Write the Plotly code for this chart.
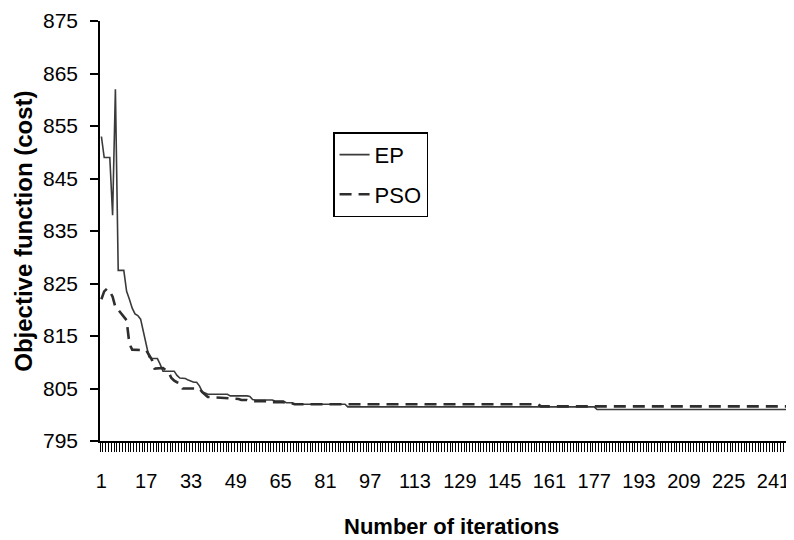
import plotly.graph_objects as go

# Data (iteration number, objective cost)
ep_iter = [1, 2, 4, 5, 6, 7, 9, 10, 11, 12, 13, 14, 15, 16, 17, 18, 19, 21, 22, 23,
           27, 28, 29, 31, 32, 33, 34, 35, 36, 37, 38, 39, 46, 47, 53, 54, 55, 56, 62,
           63, 66, 67, 69, 70, 88, 89, 177, 178, 252]
ep_cost = [853, 849, 849, 838, 862, 827.5, 827.5, 823.5, 822, 820.3, 819.2, 818.9, 818.2,
           815.8, 813, 811, 810.7, 810.7, 809.6, 808.3,
           808.3, 807.5, 807, 806.9, 806.6, 806.4, 806.2, 806.2, 805.5, 804.4, 804.1, 803.9,
           803.9, 803.6, 803.6, 803.5, 802.9, 802.8, 802.8,
           802.6, 802.6, 802.3, 802.3, 802.0, 802.0, 801.5, 801.5, 801.0, 801.0]

pso_iter = [1, 2, 3, 4, 5, 6, 7, 8, 9, 10, 11, 12, 17, 18, 19, 20, 21, 22, 23, 24, 25,
            26, 27, 28, 29, 30, 36, 37, 38, 39, 45, 50, 51, 53, 54, 60, 61, 66, 67, 69,
            70, 157, 158, 252]
pso_cost = [822, 823.5, 824, 823.5, 822.5, 820.5, 820, 819.3, 818.8, 818, 813.5, 812.4,
            812.3, 811.5, 810.5, 808.8, 808.8, 808.9, 808.9, 808.5, 808.1,
            807, 806.5, 806.2, 806.0, 805.0, 805.0, 804.3, 803.8, 803.4, 803.2, 803.0,
            802.8, 802.8, 802.6, 802.6, 802.4, 802.4, 802.2, 802.2,
            802.0, 802.0, 801.6, 801.6]

x_tick_vals = [1, 17, 33, 49, 65, 81, 97, 113, 129, 145, 161, 177, 193, 209, 225, 241]
y_tick_vals = [795, 805, 815, 825, 835, 845, 855, 865, 875]

FONT = "Liberation Sans, Arial, sans-serif"

fig = go.Figure()
fig.add_trace(go.Scatter(
    x=ep_iter, y=ep_cost, mode="lines", name="EP",
    line=dict(color="#3a3a3a", width=1.6),
    legendgroup="ep",
))
fig.add_trace(go.Scatter(
    x=pso_iter, y=pso_cost, mode="lines", name="PSO",
    line=dict(color="#2e2e2e", width=2.6, dash="12px,7px"),
    legendgroup="pso",
))

fig.update_layout(
    width=794, height=540,
    margin=dict(l=92, r=0, t=13, b=107),
    paper_bgcolor="white", plot_bgcolor="white",
    font=dict(family=FONT, color="black", size=21),
    showlegend=True,
    legend=dict(
        x=0.332, y=0.735, xanchor="left", yanchor="top",
        bordercolor="black", borderwidth=1.5, bgcolor="white",
        font=dict(size=22, family=FONT, color="black"),
        tracegroupgap=8, itemwidth=30,
    ),
    xaxis=dict(
        range=[0.5, 251.2], showgrid=False, zeroline=False,
        showline=True, linecolor="black", linewidth=1.5,
        tickmode="array", tickvals=x_tick_vals,
        ticktext=[str(v) for v in x_tick_vals],
        ticks="", ticklabelstandoff=21, ticklabeloverflow="allow",
        tickfont=dict(size=20, family=FONT, color="black"),
        minor=dict(tickmode="linear", tick0=0.5, dtick=1, ticks="outside",
                   ticklen=9, tickwidth=1, tickcolor="black"),
    ),
    yaxis=dict(
        range=[795, 875], showgrid=False, zeroline=False,
        showline=True, linecolor="black", linewidth=1.5,
        tickmode="array", tickvals=y_tick_vals,
        ticks="outside", ticklen=8, tickwidth=1.5, tickcolor="black",
        ticklabelstandoff=8,
        tickfont=dict(size=21, family=FONT, color="black"),
    ),
    annotations=[
        dict(text="<b>Number of iterations</b>", xref="paper", yref="paper",
             x=0.5, y=-0.204, xanchor="center", yanchor="middle", showarrow=False,
             font=dict(size=22, family=FONT, color="black")),
        dict(text="<b>Objective function (cost)</b>", xref="paper", yref="paper",
             x=-0.11, y=0.5, xanchor="center", yanchor="middle",
             textangle=-90, showarrow=False,
             font=dict(size=24, family=FONT, color="black")),
    ],
)

fig.write_html("out.html")
